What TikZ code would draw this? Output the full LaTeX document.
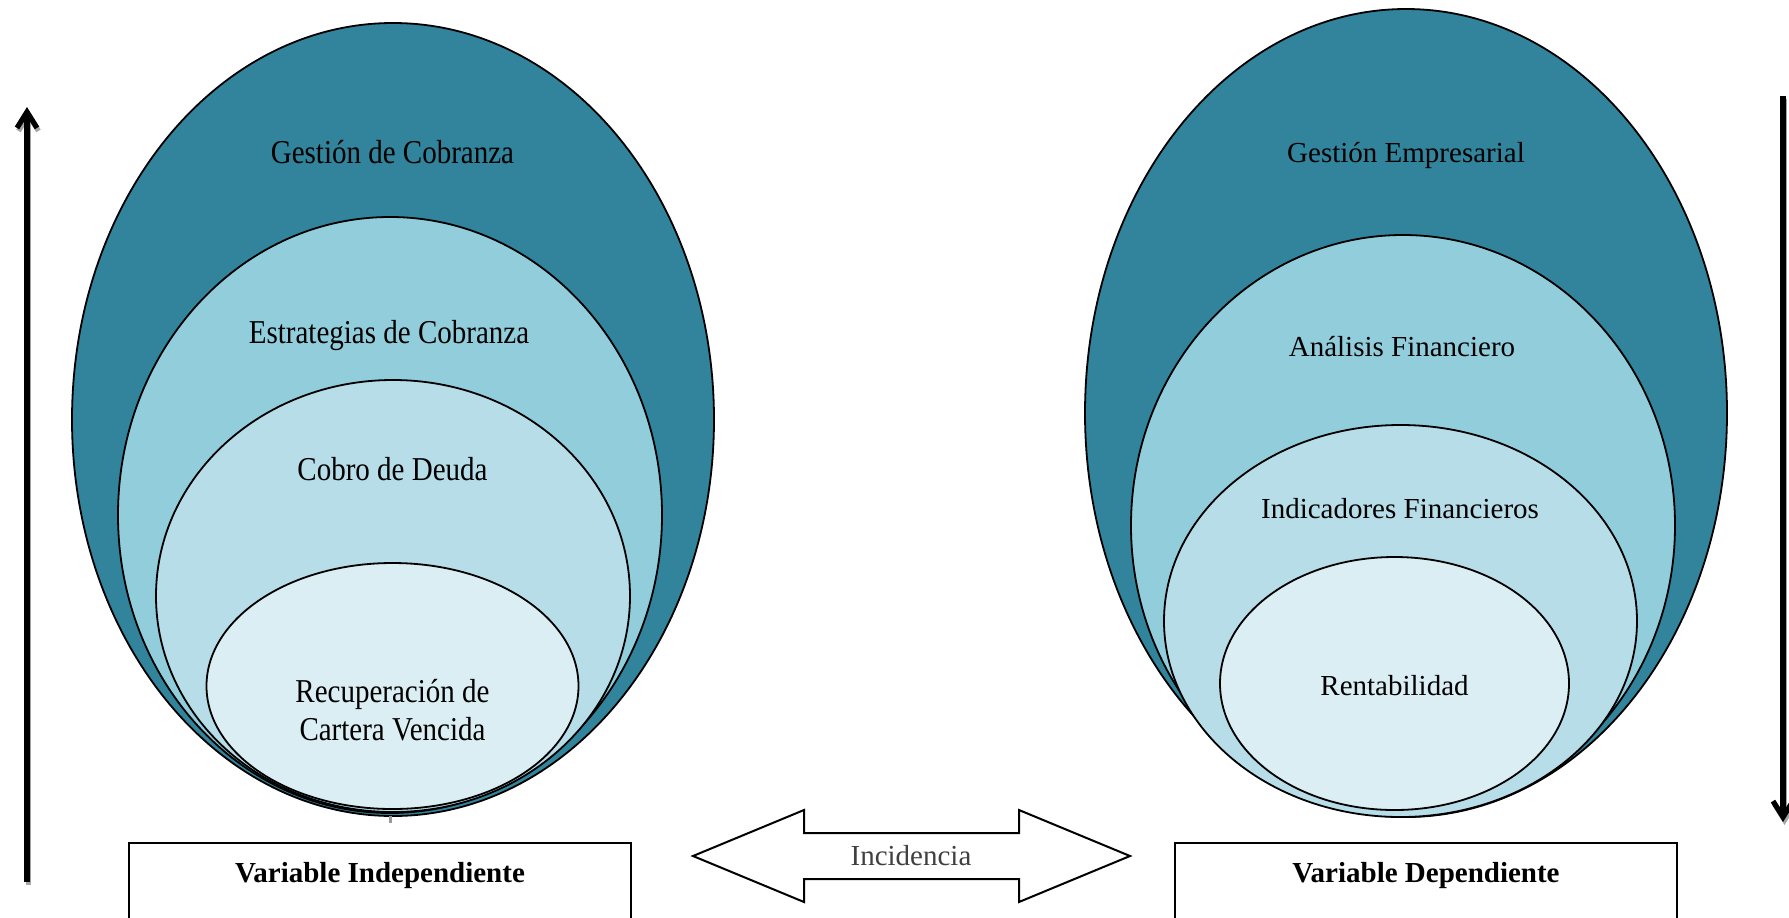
\documentclass[tikz,border=0pt]{standalone}
\usepackage{fontspec}
\setmainfont{Liberation Serif}
\usetikzlibrary{arrows.meta}

\definecolor{tealdark}{HTML}{31849B}
\definecolor{tealmid}{HTML}{92CDDC}
\definecolor{teallight}{HTML}{B7DDE8}
\definecolor{tealpale}{HTML}{DBEEF3}
\definecolor{labelgray}{HTML}{404040}

% the left-hand labels are set slightly taller than wide
\newcommand{\tallline}[1]{\scalebox{1}[1.15]{#1}}

\begin{document}
\begin{tikzpicture}[x=0.5pt,y=-0.5pt,
  ring/.style={draw=black, line width=0.9pt},
  lbl/.style={font=\fontsize{14.5}{18.85}\selectfont, text=black, inner sep=0pt, anchor=base, align=center},
  varbox/.style={draw=black, line width=1.1pt, fill=white, anchor=north,
    minimum width=251pt, inner xsep=0pt, inner ysep=0pt,
    text height=19.5pt, text depth=40pt,
    font=\fontsize{14.5}{17}\selectfont\bfseries},
  varrow/.style={line width=2.6pt, black, -{Straight Barb[length=8pt,width=10pt]}},
  varrowshadow/.style={line width=2.6pt, black!35, -{Straight Barb[length=8pt,width=10pt]}},
  bothways/.style={draw=black, line width=1pt, fill=white, line join=miter}]

\clip (0,0) rectangle (1789,917);
\fill[white] (0,0) rectangle (1789,917);

% ---- left nest: collections ----
\filldraw[ring, fill=tealdark]  (393,419.5) ellipse [x radius=321, y radius=396.5];
\filldraw[ring, fill=tealmid]   (390,515)   ellipse [x radius=272, y radius=298];
\filldraw[ring, fill=teallight] (393,596)   ellipse [x radius=237, y radius=216];
\filldraw[ring, fill=tealpale]  (392.5,686) ellipse [x radius=186, y radius=123];
\draw[black!40, line width=1.5pt] (390,816) -- (390,823);

\node[lbl] (gc) at (392.5,163) {\tallline{Gestión de Cobranza}};
\node[lbl] (ec) at (389,343)   {\tallline{Estrategias de Cobranza}};
\node[lbl] (cd) at (392.5,480) {\tallline{Cobro de Deuda}};
% base anchor of a two-line node sits on its last line
\node[lbl] (rc) at (392.5,740) {\tallline{Recuperación de}\\\tallline{Cartera Vencida}};

% ---- right nest: business management ----
\filldraw[ring, fill=tealdark]  (1406,413)    ellipse [x radius=321, y radius=404];
\filldraw[ring, fill=tealmid]   (1403,525.5)  ellipse [x radius=272, y radius=290.5];
\filldraw[ring, fill=teallight] (1400.5,621)  ellipse [x radius=236.5, y radius=196];
\filldraw[ring, fill=tealpale]  (1394.5,683.5) ellipse [x radius=174.5, y radius=126.5];

\node[lbl] (ge) at (1406,162.5)  {Gestión Empresarial};
\node[lbl] (af) at (1402,356.5)  {Análisis Financiero};
\node[lbl] (if) at (1400,518.5)  {Indicadores Financieros};
\node[lbl] (re) at (1394.5,695.5) {Rentabilidad};

% ---- variable boxes ----
\node[varbox] (vi) at (380,842)  {Variable Independiente};
\node[varbox] (vd) at (1426,842) {Variable Dependiente};

% ---- two-way arrow between the variables ----
\draw[bothways] (693,856) -- (804,810) -- (804,833) -- (1019,833) -- (1019,810)
  -- (1130,856) -- (1019,902) -- (1019,879) -- (804,879) -- (804,902) -- cycle;
\node[lbl, text=labelgray] (inc) at (911,865.5) {Incidencia};

% ---- vertical direction arrows ----
\coordinate (upS) at (27,882);
\coordinate (upE) at (27,107);
\coordinate (dnS) at (1783,96);
\coordinate (dnE) at (1783,822);
\draw[varrowshadow] ([shift={(1.5,3)}]upS) -- ([shift={(1.5,3)}]upE);
\draw[varrow] (upS) -- (upE);
\draw[varrowshadow] ([shift={(1.5,3)}]dnS) -- ([shift={(1.5,3)}]dnE);
\draw[varrow] (dnS) -- (dnE);

\end{tikzpicture}
\end{document}
